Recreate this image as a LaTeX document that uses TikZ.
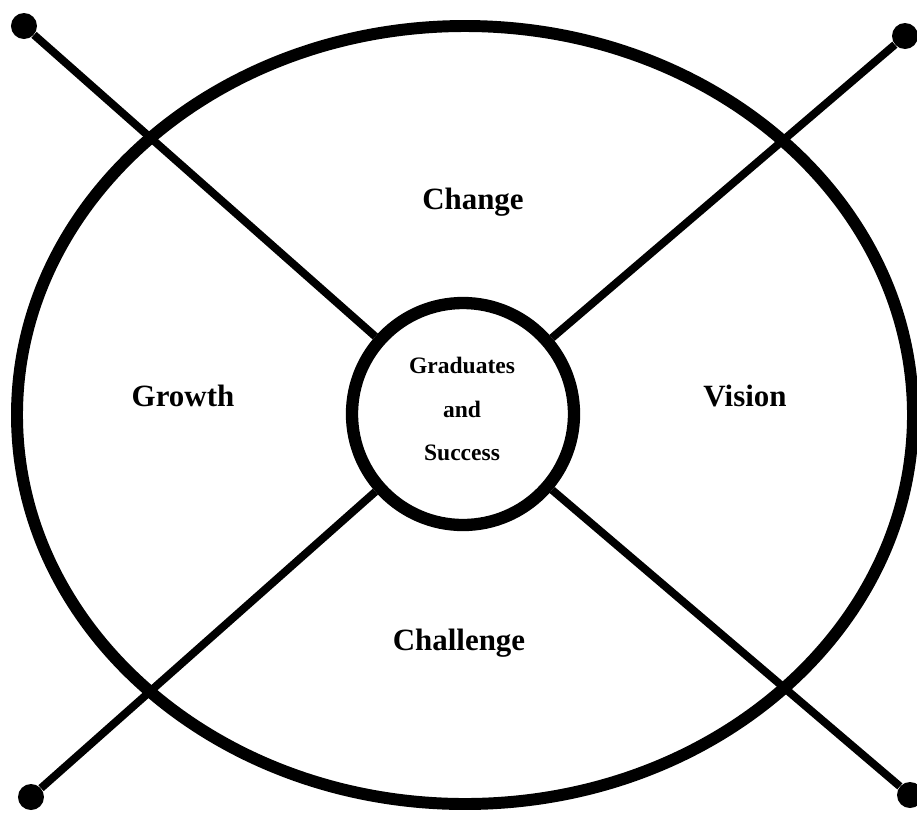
\documentclass[tikz,border=0pt]{standalone}
\usepackage{fontspec}
\setmainfont{Liberation Serif}
\usetikzlibrary{positioning,shapes.geometric}

\begin{document}
\begin{tikzpicture}[
	rim/.style={ellipse, draw=black, line width=6.8pt, minimum width=17.92cm, minimum height=15.56cm, inner sep=0pt},
	hubn/.style={circle, draw=black, fill=white, line width=7pt, minimum size=4.44cm, inner sep=0pt, align=center, font=\bfseries\fontsize{13.4}{24.5}\selectfont},
	dotn/.style={circle, fill=black, draw=none, minimum size=0.52cm, inner sep=0pt},
	lbl/.style={anchor=base, font=\bfseries\fontsize{17.6}{20}\selectfont},
	spoke/.style={line width=4.5pt}]

	\useasboundingbox (-9.30,-7.94) rectangle (9.04,8.30);

	\node (outer) [rim] at (0,0) {};

	% end points of the two crossing bars
	\node (tl) [dotn] at (-8.82,7.78) {};
	\node (tr) [dotn] at (8.80,7.58) {};
	\node (bl) [dotn] at (-8.68,-7.64) {};
	\node (br) [dotn] at (8.90,-7.60) {};

	\node (hub) [hubn] at (-0.04,0.02) {};

	\draw [spoke] (tl) -- (hub);
	\draw [spoke] (tr) -- (hub);
	\draw [spoke] (bl) -- (hub);
	\draw [spoke] (br) -- (hub);

	\node (hubtext) [hubn, draw=none, fill=none, minimum size=0pt] at (-0.06,0.12) {Graduates\\and\\Success};

	% the four quarters
	\node (change) [lbl] at (0.16,4.12) {Change};
	\node (growth) [lbl] at (-5.64,0.18) {Growth};
	\node (vision) [lbl] at (5.60,0.18) {Vision};
	\node (challenge) [lbl] at (-0.12,-4.70) {Challenge};

\end{tikzpicture}
\end{document}
